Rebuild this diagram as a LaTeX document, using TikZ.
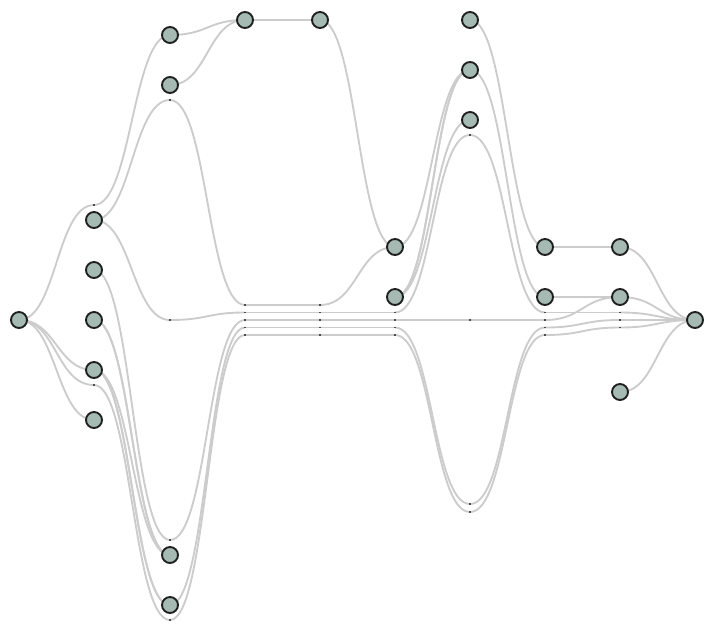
\documentclass[tikz,border=0pt]{standalone}
\usetikzlibrary{backgrounds}
\definecolor{nodefill}{HTML}{A6BAB4}
\definecolor{edgegray}{HTML}{CCCCCC}
\tikzset{
	vtx/.style={circle,draw=black!88,line width=1.6pt,fill=nodefill,minimum size=0.48cm,inner sep=0pt},
	edge/.style={draw=edgegray,line width=1.6pt},
	dum/.style={rectangle,fill=black!70,minimum size=1.5pt,inner sep=0pt}
}
\newcommand{\lnk}[3][]{\draw[edge,#1] (#2.center) .. controls +(37.5,0) and +(-37.5,0) .. (#3.center);}
\begin{document}
\begin{tikzpicture}[x=0.03cm,y=-0.03cm, line join=round, line cap=round]
			\useasboundingbox (0,0) rectangle (715,640);
			\node[vtx] (a) at (19,320) {};
			\foreach \i/\y in {1/220,2/270,3/320,4/370,5/420} \node[vtx] (b\i) at (94,\y) {};
			\foreach \i/\y in {1/35,2/85,3/555,4/605} \node[vtx] (c\i) at (170,\y) {};
			\node[vtx] (d) at (245,20) {};
			\node[vtx] (e) at (320,20) {};
			\node[vtx] (f1) at (395,247) {};
			\node[vtx] (f2) at (395,297) {};
			\foreach \i/\y in {1/20,2/70,3/120} \node[vtx] (g\i) at (470,\y) {};
			\node[vtx] (h1) at (545,247) {};
			\node[vtx] (h2) at (545,297) {};
			\foreach \i/\y in {1/247,2/297,3/392} \node[vtx] (i\i) at (620,\y) {};
			\node[vtx] (j) at (695,320) {};
			\foreach \n/\x/\y in {p1a/94/205, p1b/94/385,
				p2a/170/100, p2b/170/320, p2c/170/540, p2d/170/620,
				p3a/245/305, p3b/245/312.5, p3c/245/320, p3d/245/327.5, p3e/245/335,
				p4a/320/305, p4b/320/312.5, p4c/320/320, p4d/320/327.5, p4e/320/335,
				p5a/395/312.5, p5b/395/320, p5c/395/327.5, p5d/395/335,
				p6a/470/135, p6b/470/320, p6c/470/504, p6d/470/512,
				p7a/545/312.5, p7b/545/320, p7c/545/327.5, p7d/545/335,
				p8a/620/312.5, p8b/620/320, p8c/620/327.5}
			{\coordinate (\n) at (\x,\y);
				\node[dum] at (\n) {};}
			\begin{scope}[on background layer]
				\lnk{a}{p1a} \lnk{a}{b4} \lnk{a}{p1b} \lnk{a}{b5}
				\lnk{p1a}{c1} \lnk{b1}{p2a} \lnk{b1}{p2b} \lnk{b2}{p2c}
				\lnk{b3}{c3} \lnk[xshift=1.6pt]{b3}{c3} \lnk{b4}{c3}
				\lnk{b4}{c4} \lnk[xshift=1.6pt]{b4}{c4} \lnk{p1b}{p2d}
				\lnk{c1}{d} \lnk{c2}{d} \lnk{p2a}{p3a} \lnk{p2b}{p3b}
				\lnk{p2c}{p3c} \lnk{c4}{p3d} \lnk{p2d}{p3e}
				\lnk{d}{e} \lnk{p3a}{p4a} \lnk{p3b}{p4b} \lnk{p3c}{p4c}
				\lnk{p3d}{p4d} \lnk{p3e}{p4e}
				\lnk{e}{f1} \lnk{p4a}{f1} \lnk{p4b}{p5a} \lnk{p4c}{p5b}
				\lnk{p4d}{p5c} \lnk{p4e}{p5d}
				\lnk{f1}{g2} \lnk{f2}{g2} \lnk[xshift=1.6pt]{f2}{g2} \lnk{f2}{g3}
				\lnk{p5a}{p6a} \lnk{p5b}{p6b} \lnk{p5c}{p6c} \lnk{p5d}{p6d}
				\lnk{g1}{h1} \lnk{g2}{h2} \lnk{p6a}{p7a} \lnk{p6b}{p7b}
				\lnk{p6c}{p7c} \lnk{p6d}{p7d}
				\lnk{h1}{i1} \lnk{h2}{i2} \lnk{p7a}{p8a} \lnk{p7b}{i2}
				\lnk{p7c}{p8b} \lnk{p7d}{p8c}
				\lnk{i1}{j} \lnk{i2}{j} \lnk{p8a}{j} \lnk{p8b}{j}
				\lnk{p8c}{j} \lnk{i3}{j}
			\end{scope}
	\end{tikzpicture}
\end{document}
